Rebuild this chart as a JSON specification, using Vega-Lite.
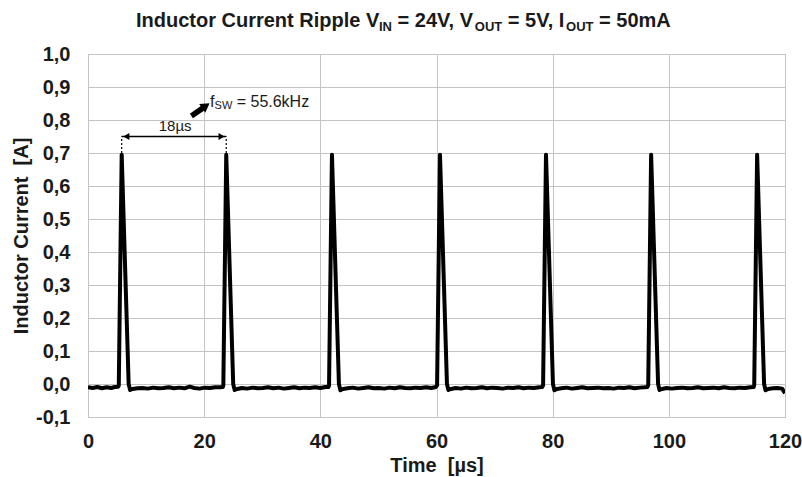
{
  "$schema": "https://vega.github.io/schema/vega-lite/v6.json",
  "width": 697,
  "height": 363,
  "autosize": {"type": "none"},
  "padding": {"left": 88, "top": 54, "right": 17, "bottom": 60},
  "background": "white",
  "config": {
    "font": "Liberation Sans",
    "view": {"stroke": "#a6a6a6", "strokeWidth": 1},
    "axis": {
      "domain": false,
      "ticks": false,
      "gridColor": "#c4c4c4",
      "gridWidth": 1,
      "labelFont": "Liberation Sans",
      "labelFontWeight": "bold",
      "labelFontSize": 20,
      "labelColor": "#1a1a1a",
      "labelOverlap": false,
      "labelFlush": false,
      "titleFont": "Liberation Sans",
      "titleFontWeight": "bold",
      "titleFontSize": 20,
      "titleColor": "#1a1a1a"
    }
  },
  "layer": [
    {
      "data": {"values": [
        {"t": 0, "i": -0.010}, {"t": 0.8, "i": -0.012}, {"t": 1.6, "i": -0.009}, {"t": 2.4, "i": -0.013}, {"t": 3.2, "i": -0.010}, {"t": 4.0, "i": -0.012}, {"t": 4.6, "i": -0.009}, {"t": 5.2, "i": -0.008},
        {"t": 5.3, "i": -0.004}, {"t": 5.8, "i": 0.695}, {"t": 7.0, "i": 0.0}, {"t": 7.25, "i": -0.018}, {"t": 7.7, "i": -0.015},
        {"t": 8.5, "i": -0.013}, {"t": 9.4, "i": -0.012}, {"t": 10.3, "i": -0.014}, {"t": 11.2, "i": -0.011}, {"t": 12.1, "i": -0.013}, {"t": 13.0, "i": -0.012}, {"t": 13.9, "i": -0.010}, {"t": 14.8, "i": -0.013}, {"t": 15.7, "i": -0.011}, {"t": 16.6, "i": -0.013}, {"t": 17.5, "i": -0.008}, {"t": 18.3, "i": -0.012}, {"t": 19.2, "i": -0.014}, {"t": 20.1, "i": -0.011}, {"t": 21.0, "i": -0.012}, {"t": 21.9, "i": -0.010}, {"t": 22.7, "i": -0.010}, {"t": 23.2, "i": -0.009},
        {"t": 23.3, "i": -0.004}, {"t": 23.8, "i": 0.695}, {"t": 25.0, "i": 0.0}, {"t": 25.25, "i": -0.018}, {"t": 25.7, "i": -0.015},
        {"t": 26.5, "i": -0.012}, {"t": 27.4, "i": -0.014}, {"t": 28.3, "i": -0.011}, {"t": 29.2, "i": -0.013}, {"t": 30.1, "i": -0.012}, {"t": 31.0, "i": -0.010}, {"t": 31.9, "i": -0.013}, {"t": 32.8, "i": -0.011}, {"t": 33.7, "i": -0.014}, {"t": 34.6, "i": -0.012}, {"t": 35.5, "i": -0.010}, {"t": 36.4, "i": -0.013}, {"t": 37.3, "i": -0.011}, {"t": 38.2, "i": -0.012}, {"t": 39.1, "i": -0.010}, {"t": 40.0, "i": -0.012}, {"t": 40.9, "i": -0.009}, {"t": 41.4, "i": -0.009},
        {"t": 41.5, "i": -0.004}, {"t": 42.0, "i": 0.695}, {"t": 43.2, "i": 0.0}, {"t": 43.45, "i": -0.019}, {"t": 43.9, "i": -0.015},
        {"t": 44.7, "i": -0.013}, {"t": 45.6, "i": -0.011}, {"t": 46.5, "i": -0.014}, {"t": 47.4, "i": -0.012}, {"t": 48.3, "i": -0.010}, {"t": 49.2, "i": -0.013}, {"t": 50.1, "i": -0.012}, {"t": 51.0, "i": -0.014}, {"t": 51.9, "i": -0.011}, {"t": 52.8, "i": -0.013}, {"t": 53.7, "i": -0.010}, {"t": 54.6, "i": -0.012}, {"t": 55.5, "i": -0.013}, {"t": 56.4, "i": -0.011}, {"t": 57.3, "i": -0.012}, {"t": 58.2, "i": -0.010}, {"t": 59.1, "i": -0.012}, {"t": 59.9, "i": -0.009},
        {"t": 60.1, "i": -0.004}, {"t": 60.6, "i": 0.695}, {"t": 61.8, "i": 0.0}, {"t": 62.05, "i": -0.018}, {"t": 62.5, "i": -0.015},
        {"t": 63.3, "i": -0.012}, {"t": 64.2, "i": -0.014}, {"t": 65.1, "i": -0.011}, {"t": 66.0, "i": -0.013}, {"t": 66.9, "i": -0.012}, {"t": 67.8, "i": -0.010}, {"t": 68.7, "i": -0.013}, {"t": 69.6, "i": -0.011}, {"t": 70.5, "i": -0.012}, {"t": 71.4, "i": -0.014}, {"t": 72.3, "i": -0.011}, {"t": 73.2, "i": -0.012}, {"t": 74.1, "i": -0.010}, {"t": 75.0, "i": -0.013}, {"t": 75.9, "i": -0.011}, {"t": 76.8, "i": -0.012}, {"t": 77.7, "i": -0.010}, {"t": 78.2, "i": -0.009},
        {"t": 78.35, "i": -0.004}, {"t": 78.85, "i": 0.695}, {"t": 80.05, "i": 0.0}, {"t": 80.3, "i": -0.019}, {"t": 80.75, "i": -0.015},
        {"t": 81.5, "i": -0.013}, {"t": 82.4, "i": -0.011}, {"t": 83.3, "i": -0.014}, {"t": 84.2, "i": -0.012}, {"t": 85.1, "i": -0.010}, {"t": 86.0, "i": -0.013}, {"t": 86.9, "i": -0.012}, {"t": 87.8, "i": -0.011}, {"t": 88.7, "i": -0.013}, {"t": 89.6, "i": -0.012}, {"t": 90.5, "i": -0.014}, {"t": 91.4, "i": -0.011}, {"t": 92.3, "i": -0.012}, {"t": 93.2, "i": -0.010}, {"t": 94.1, "i": -0.013}, {"t": 95.0, "i": -0.011}, {"t": 95.8, "i": -0.010}, {"t": 96.3, "i": -0.009},
        {"t": 96.45, "i": -0.004}, {"t": 96.95, "i": 0.695}, {"t": 98.15, "i": 0.0}, {"t": 98.4, "i": -0.018}, {"t": 98.85, "i": -0.015},
        {"t": 99.6, "i": -0.012}, {"t": 100.5, "i": -0.014}, {"t": 101.4, "i": -0.012}, {"t": 102.3, "i": -0.011}, {"t": 103.2, "i": -0.013}, {"t": 104.1, "i": -0.012}, {"t": 105.0, "i": -0.010}, {"t": 105.9, "i": -0.013}, {"t": 106.8, "i": -0.012}, {"t": 107.7, "i": -0.011}, {"t": 108.6, "i": -0.013}, {"t": 109.5, "i": -0.010}, {"t": 110.4, "i": -0.012}, {"t": 111.3, "i": -0.013}, {"t": 112.2, "i": -0.011}, {"t": 113.1, "i": -0.012}, {"t": 114.0, "i": -0.010}, {"t": 114.6, "i": -0.009},
        {"t": 114.7, "i": -0.004}, {"t": 115.2, "i": 0.695}, {"t": 116.4, "i": 0.0}, {"t": 116.65, "i": -0.019}, {"t": 117.1, "i": -0.015},
        {"t": 117.9, "i": -0.013}, {"t": 118.7, "i": -0.012}, {"t": 119.5, "i": -0.014}, {"t": 120.0, "i": -0.028}
      ]},
      "mark": {"type": "line", "color": "#000000", "strokeWidth": 4, "strokeJoin": "round", "clip": true},
      "encoding": {
        "x": {"field": "t", "type": "quantitative", "scale": {"domain": [0, 120], "nice": false},
              "axis": {"values": [0, 20, 40, 60, 80, 100, 120], "tickCount": 7, "grid": true, "labelPadding": 14, "title": "Time \u00a0[µs]", "titlePadding": 4}},
        "y": {"field": "i", "type": "quantitative", "scale": {"domain": [-0.1, 1.0], "nice": false, "zero": false},
              "axis": {"values": [-0.1, 0, 0.1, 0.2, 0.3, 0.4, 0.5, 0.6, 0.7, 0.8, 0.9, 1.0], "tickCount": 12, "grid": true, "labelPadding": 18,
                       "labelExpr": "replace(replace(format(datum.value, '.1f'), '.', ','), '\u2212', '-')", "title": "Inductor Current \u00a0[A]", "titlePadding": 4}}
      }
    },
    {
      "data": {"values": [{"x1": 5.8, "x2": 23.8, "y": 0.75}]},
      "mark": {"type": "rule", "color": "#000000", "strokeWidth": 1.5},
      "encoding": {"x": {"field": "x1", "type": "quantitative"}, "x2": {"field": "x2"}, "y": {"field": "y", "type": "quantitative"}}
    },
    {
      "data": {"values": [{"x": 5.8, "y1": 0.70, "y2": 0.75}, {"x": 23.8, "y1": 0.70, "y2": 0.75}]},
      "mark": {"type": "rule", "color": "#000000", "strokeWidth": 1.2, "strokeDash": [2, 2]},
      "encoding": {"x": {"field": "x", "type": "quantitative"}, "y": {"field": "y1", "type": "quantitative"}, "y2": {"field": "y2"}}
    },
    {
      "data": {"values": [{"x": 6.6, "y": 0.75, "s": "triangle-left"}, {"x": 23.0, "y": 0.75, "s": "triangle-right"}]},
      "mark": {"type": "point", "filled": true, "color": "#000000", "size": 50, "opacity": 1},
      "encoding": {"x": {"field": "x", "type": "quantitative"}, "y": {"field": "y", "type": "quantitative"},
                   "shape": {"field": "s", "type": "nominal", "scale": null}}
    },
    {
      "data": {"values": [{"x1": 17.8, "y1": 0.812, "x2": 20.0, "y2": 0.839}]},
      "mark": {"type": "rule", "color": "#000000", "strokeWidth": 5.5},
      "encoding": {"x": {"field": "x1", "type": "quantitative"}, "x2": {"field": "x2"}, "y": {"field": "y1", "type": "quantitative"}, "y2": {"field": "y2"}}
    },
    {
      "data": {"values": [{"x": 20.3, "y": 0.843}]},
      "mark": {"type": "point", "shape": "triangle-up", "filled": true, "color": "#000000", "size": 110, "angle": 55, "opacity": 1},
      "encoding": {"x": {"field": "x", "type": "quantitative"}, "y": {"field": "y", "type": "quantitative"}}
    },
    {
      "data": {"values": [
        {"x": 21.0, "y": 0.840, "txt": "f", "fs": 16},
        {"x": 21.8, "y": 0.832, "txt": "SW", "fs": 11},
        {"x": 25.6, "y": 0.840, "txt": "= 55.6kHz", "fs": 16}
      ]},
      "mark": {"type": "text", "align": "left", "baseline": "alphabetic", "color": "#1a1a1a", "font": "Liberation Sans"},
      "encoding": {"x": {"field": "x", "type": "quantitative"}, "y": {"field": "y", "type": "quantitative"},
                   "text": {"field": "txt"}, "size": {"field": "fs", "type": "quantitative", "scale": null}}
    },
    {
      "data": {"values": [{"x": 15.0, "y": 0.768, "txt": "18µs"}]},
      "mark": {"type": "text", "align": "center", "baseline": "alphabetic", "color": "#1a1a1a", "fontSize": 15, "font": "Liberation Sans"},
      "encoding": {"x": {"field": "x", "type": "quantitative"}, "y": {"field": "y", "type": "quantitative"}, "text": {"field": "txt"}}
    },
    {
      "data": {"values": [
        {"x": 8.26, "y": 1.082, "txt": "Inductor Current Ripple V", "fs": 20},
        {"x": 50.1, "y": 1.070, "txt": "IN", "fs": 13},
        {"x": 53.3, "y": 1.082, "txt": "= 24V, V", "fs": 20},
        {"x": 66.6, "y": 1.070, "txt": "OUT", "fs": 13},
        {"x": 72.28, "y": 1.082, "txt": "= 5V, I", "fs": 20},
        {"x": 82.3, "y": 1.070, "txt": "OUT", "fs": 13},
        {"x": 87.98, "y": 1.082, "txt": "= 50mA", "fs": 20}
      ]},
      "mark": {"type": "text", "align": "left", "baseline": "alphabetic", "color": "#1a1a1a", "fontWeight": "bold", "font": "Liberation Sans"},
      "encoding": {"x": {"field": "x", "type": "quantitative"}, "y": {"field": "y", "type": "quantitative"},
                   "text": {"field": "txt"}, "size": {"field": "fs", "type": "quantitative", "scale": null}}
    }
  ]
}
